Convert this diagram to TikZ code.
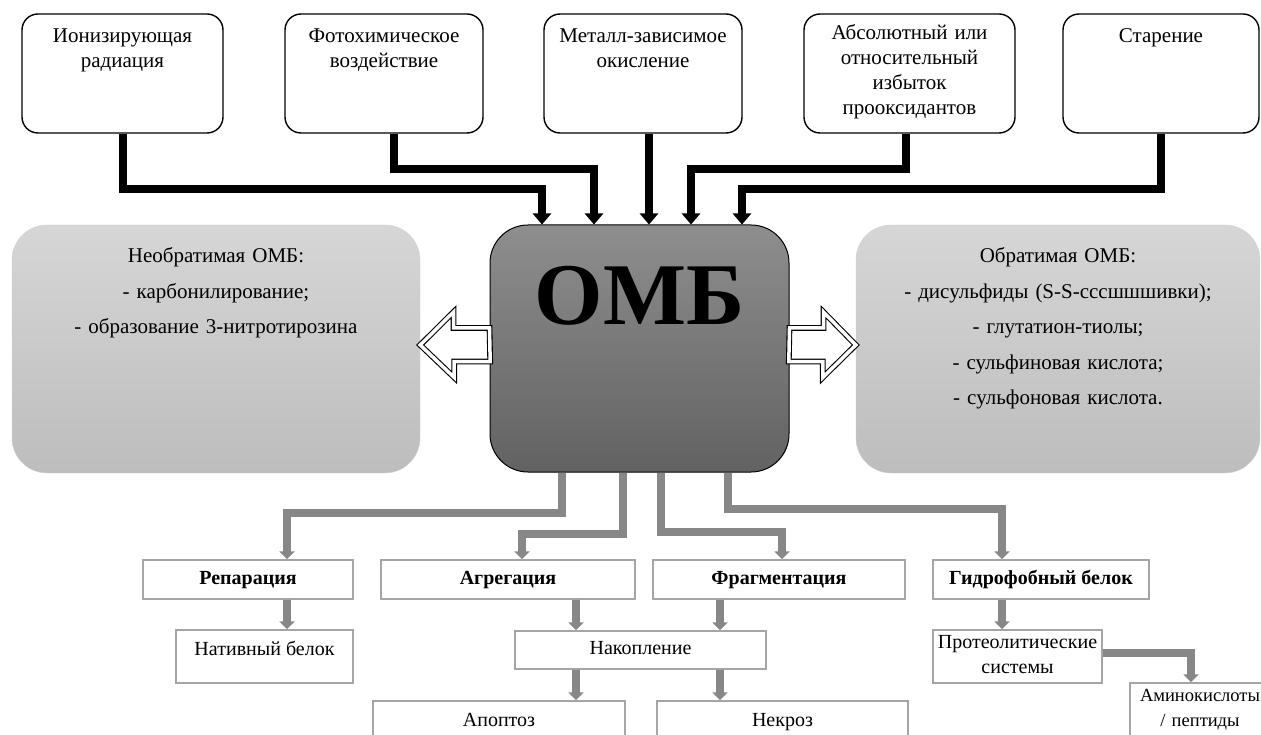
\documentclass[tikz,border=0pt]{standalone}
\usepackage{fontspec}
\setmainfont{Liberation Serif}
\usepackage{tikz}
\usetikzlibrary{arrows.meta}
\definecolor{ombtop}{RGB}{142,142,142}
\definecolor{ombbot}{RGB}{98,98,98}
\definecolor{sidetop}{RGB}{214,214,214}
\definecolor{sidebot}{RGB}{189,189,189}
\definecolor{lgray}{RGB}{135,135,135}
\definecolor{boxline}{RGB}{165,165,165}

\begin{document}
\begin{tikzpicture}[x = 1pt, y = -1pt,
  src/.style = {draw, line width = 1.4pt, rounded corners = 16pt, align = center, text width = 180pt, minimum height = 119pt, text height = 14pt, text depth = 75pt, font = \fontsize{21}{25}\selectfont},
  side/.style = {draw = gray!35, rounded corners = 35pt, top color = sidetop, bottom color = sidebot, align = center, text width = 380pt, minimum height = 248pt, text height = 14pt, text depth = 186pt, font = \fontsize{21}{35.5}\selectfont},
  res/.style = {draw = boxline, line width = 1.5pt, fill = white, align = center, minimum height = 39pt, text height = 14pt, text depth = 5pt, font = \fontsize{20}{25}\selectfont},
  head/.style = {res, font = \bfseries\fontsize{20}{25}\selectfont},
  blk/.style = {line width = 8pt, -{Triangle[width = 18pt, length = 11pt]}},
  gln/.style = {line width = 8pt, lgray, -{Triangle[width = 15pt, length = 8pt]}},
  hollow/.style = {draw, double, double distance = 3.5pt, line width = 1.1pt, fill = white}]
\path [use as bounding box, clip] (0,0) rectangle (1261,735);

\node [src, minimum width = 201pt] (ion) at (122.5,73.5) {Ионизирующая\\радиация};
\node [src, minimum width = 198pt] (photo) at (384,73.5) {Фотохимическое\\воздействие};
\node [src, minimum width = 198pt] (metal) at (643,73.5) {Металл-зависимое\\окисление};
\node [src, minimum width = 211pt, text depth = 81pt] (prox) at (909.5,73.5) {Абсолютный или\\относительный\\избыток\\прооксидантов};
\node [src, minimum width = 196pt] (age) at (1161,73.5) {Старение};

\node [draw, line width = 1pt, rounded corners = 38pt, top color = ombtop, bottom color = ombbot, minimum width = 299pt, minimum height = 247pt, text height = 58pt, text depth = 105pt, font = \bfseries\fontsize{88}{88}\selectfont] (omb) at (639.5,348.5) {ОМБ};
\node [side, minimum width = 408pt] (irr) at (216,349) {Необратимая ОМБ:\\- карбонилирование;\\- образование 3-нитротирозина};
\node [side, minimum width = 404pt] (rev) at (1058,349) {Обратимая ОМБ:\\- дисульфиды (S-S-сссшшшивки);\\- глутатион-тиолы;\\- сульфиновая кислота;\\- сульфоновая кислота.};

\node [head, minimum width = 210pt] (rep) at (248,579.5) {Репарация};
\node [head, minimum width = 254pt] (agg) at (508,579.5) {Агрегация};
\node [head, minimum width = 252pt] (frag) at (779,579.5) {Фрагментация};
\node [head, minimum width = 216pt] (hyd) at (1041,579.5) {Гидрофобный белок};
\node [res, minimum width = 177pt, minimum height = 53pt, text depth = 17pt] (nat) at (264.5,656.5) {Нативный белок};
\node [res, minimum width = 251pt, minimum height = 38pt] (nak) at (640.5,650) {Накопление};
\node [res, minimum width = 252pt, minimum height = 41pt] (apo) at (499,721.5) {Апоптоз};
\node [res, minimum width = 251pt, minimum height = 41pt] (nek) at (782.5,721.5) {Некроз};
\node [res, minimum width = 169pt, minimum height = 53pt, text width = 162pt, text depth = 30pt] (prot) at (1017.5,656.5) {Протеолитические\\системы};
\node [res, minimum width = 140pt, minimum height = 53.5pt, text width = 126pt, text depth = 30pt, font = \fontsize{18.5}{25}\selectfont] (amino) at (1200,709.75) {Аминокислоты\\/ пептиды};

\draw [blk] (ion.south) -- ++(0,55) -| ([xshift = -97.5pt]omb.north);
\draw [blk] ([xshift = 10pt]photo.south) -- ++(0,35) -| ([xshift = -45.5pt]omb.north);
\draw [blk] ([xshift = 6pt]metal.south) -- ([xshift = 9.5pt]omb.north);
\draw [blk] ([xshift = -3.5pt]prox.south) -- ++(0,35) -| ([xshift = 51.5pt]omb.north);
\draw [blk] (age.south) -- ++(0,55) -| ([xshift = 102.5pt]omb.north);

\draw [hollow] ([yshift = 20.5pt]omb.west) -- ++(-36,0) -- ++(0,-16) -- ([yshift = 4pt]irr.east) -- ++(34,32.5) -- ++(0,-16) -- ++(36,0) -- cycle;
\draw [hollow] ([yshift = 20.5pt]omb.east) -- ++(34,0) -- ++(0,-16) -- ([yshift = 4pt]rev.west) -- ++(-33,32.5) -- ++(0,-16) -- ++(-34,0) -- cycle;

\draw [gln] ([xshift = -77.5pt]omb.south) -- ++(0,40) -| ([xshift = 39pt]rep.north);
\draw [gln] ([xshift = -16.5pt]omb.south) -- ++(0,61) -| ([xshift = 14pt]agg.north);
\draw [gln] ([xshift = 21.5pt]omb.south) -- ++(0,59) -| ([xshift = 3pt]frag.north);
\draw [gln] ([xshift = 88.5pt]omb.south) -- ++(0,36) -| ([xshift = -39pt]hyd.north);
\draw [gln] ([xshift = 39pt]rep.south) -- ([xshift = 22.5pt]nat.north);
\draw [gln] ([xshift = 68pt]agg.south) -- ([xshift = -64.5pt]nak.north);
\draw [gln] ([xshift = -59pt]frag.south) -- ([xshift = 79.5pt]nak.north);
\draw [gln] ([xshift = -64.5pt]nak.south) -- ([xshift = 77pt]apo.north);
\draw [gln] ([xshift = 79.5pt]nak.south) -- ([xshift = -62.5pt]nek.north);
\draw [gln] ([xshift = -39pt]hyd.south) -- ([xshift = -15.5pt]prot.north);
\draw [gln] ([yshift = 3.5pt]prot.east) -| ([xshift = -9pt]amino.north);
\end{tikzpicture}
\end{document}
